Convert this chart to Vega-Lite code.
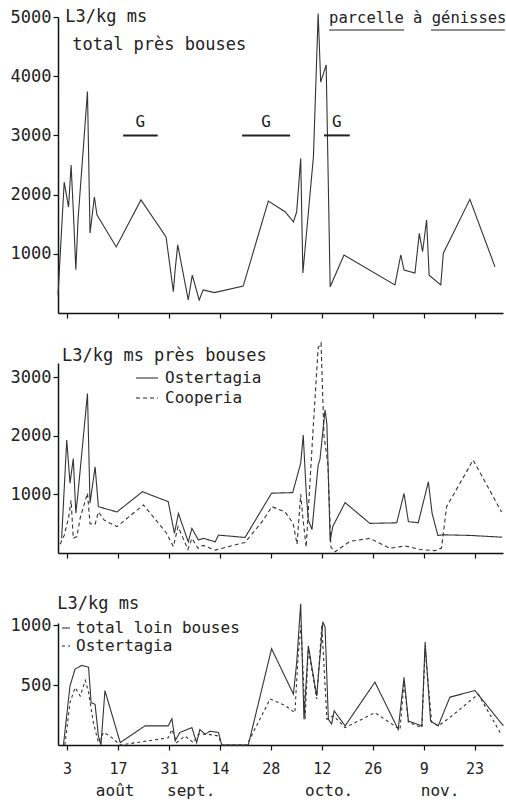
{
  "$schema": "https://vega.github.io/schema/vega-lite/v6.json",
  "background": "white",
  "padding": {"left": 10, "top": 8, "right": 0, "bottom": 0},
  "config": {
    "view": {"stroke": null},
    "font": "DejaVu Sans Mono",
    "axis": {"grid": false, "domainColor": "#111", "domainWidth": 1.5, "tickColor": "#111", "tickWidth": 1.2, "tickSize": 5, "labelColor": "#222", "labelFont": "DejaVu Sans Mono", "labelFontSize": 17, "labelPadding": 2, "format": "d"},
    "legend": {"orient": "none", "title": null, "symbolType": "stroke", "symbolStrokeColor": "#222", "symbolStrokeWidth": 1.2, "labelFont": "DejaVu Sans Mono", "labelFontSize": 16, "labelColor": "#222", "labelLimit": 400, "rowPadding": 2, "padding": 0, "labelOffset": 6},
    "text": {"font": "DejaVu Sans Mono", "fontSize": 16, "color": "#222"}
  },
  "datasets": {
    "haut": [
      {"jour": -2.5, "L3": 300}, {"jour": -0.8, "L3": 2210}, {"jour": 0.4, "L3": 1790}, {"jour": 1.1, "L3": 2500}, {"jour": 1.7, "L3": 1740}, {"jour": 2.4, "L3": 730}, {"jour": 3.0, "L3": 1570}, {"jour": 5.6, "L3": 3740}, {"jour": 6.3, "L3": 1350}, {"jour": 7.5, "L3": 1960}, {"jour": 8.2, "L3": 1660}, {"jour": 13.5, "L3": 1115}, {"jour": 20.3, "L3": 1910}, {"jour": 27.2, "L3": 1285}, {"jour": 29.2, "L3": 360}, {"jour": 29.7, "L3": 730}, {"jour": 30.4, "L3": 1150}, {"jour": 33.3, "L3": 220}, {"jour": 34.4, "L3": 640}, {"jour": 36.3, "L3": 220}, {"jour": 37.4, "L3": 390}, {"jour": 40.5, "L3": 345}, {"jour": 48.4, "L3": 455}, {"jour": 55.3, "L3": 1890}, {"jour": 59.9, "L3": 1710}, {"jour": 62.2, "L3": 1540}, {"jour": 63.1, "L3": 1710}, {"jour": 64.2, "L3": 2610}, {"jour": 64.8, "L3": 675}, {"jour": 67.7, "L3": 2640}, {"jour": 69.0, "L3": 5060}, {"jour": 69.7, "L3": 3900}, {"jour": 71.2, "L3": 4190}, {"jour": 72.3, "L3": 445}, {"jour": 76.1, "L3": 980}, {"jour": 90.1, "L3": 475}, {"jour": 91.7, "L3": 980}, {"jour": 92.6, "L3": 725}, {"jour": 95.6, "L3": 675}, {"jour": 96.8, "L3": 1345}, {"jour": 97.7, "L3": 1035}, {"jour": 98.8, "L3": 1570}, {"jour": 99.5, "L3": 640}, {"jour": 102.7, "L3": 475}, {"jour": 103.4, "L3": 1010}, {"jour": 110.7, "L3": 1920}, {"jour": 117.6, "L3": 780}
    ],
    "paturage": [
      {"debut": 15.4, "fin": 24.9, "label": "G"},
      {"debut": 48.1, "fin": 61.3, "label": "G"},
      {"debut": 70.6, "fin": 77.7, "label": "G"}
    ],
    "mois": [
      {"jour": 13.2, "mois": "août"},
      {"jour": 34.1, "mois": "sept."},
      {"jour": 72.0, "mois": "octo."},
      {"jour": 102.5, "mois": "nov."}
    ],
    "milieu": [
      {"jour": -1.5, "L3": 250, "serie": "Ostertagia"}, {"jour": -0.1, "L3": 1925, "serie": "Ostertagia"}, {"jour": 0.8, "L3": 1190, "serie": "Ostertagia"}, {"jour": 1.7, "L3": 1610, "serie": "Ostertagia"}, {"jour": 2.4, "L3": 680, "serie": "Ostertagia"}, {"jour": 2.9, "L3": 960, "serie": "Ostertagia"}, {"jour": 5.6, "L3": 2720, "serie": "Ostertagia"}, {"jour": 6.3, "L3": 850, "serie": "Ostertagia"}, {"jour": 7.7, "L3": 1470, "serie": "Ostertagia"}, {"jour": 8.6, "L3": 790, "serie": "Ostertagia"}, {"jour": 10.3, "L3": 760, "serie": "Ostertagia"}, {"jour": 13.7, "L3": 700, "serie": "Ostertagia"}, {"jour": 20.7, "L3": 1045, "serie": "Ostertagia"}, {"jour": 27.8, "L3": 875, "serie": "Ostertagia"}, {"jour": 29.5, "L3": 335, "serie": "Ostertagia"}, {"jour": 30.6, "L3": 675, "serie": "Ostertagia"}, {"jour": 33.3, "L3": 190, "serie": "Ostertagia"}, {"jour": 34.3, "L3": 420, "serie": "Ostertagia"}, {"jour": 36.1, "L3": 220, "serie": "Ostertagia"}, {"jour": 37.5, "L3": 250, "serie": "Ostertagia"}, {"jour": 40.7, "L3": 190, "serie": "Ostertagia"}, {"jour": 41.6, "L3": 305, "serie": "Ostertagia"}, {"jour": 48.9, "L3": 265, "serie": "Ostertagia"}, {"jour": 56.2, "L3": 1020, "serie": "Ostertagia"}, {"jour": 62.0, "L3": 1030, "serie": "Ostertagia"}, {"jour": 64.2, "L3": 1530, "serie": "Ostertagia"}, {"jour": 64.9, "L3": 2010, "serie": "Ostertagia"}, {"jour": 65.7, "L3": 1050, "serie": "Ostertagia"}, {"jour": 66.3, "L3": 560, "serie": "Ostertagia"}, {"jour": 67.3, "L3": 400, "serie": "Ostertagia"}, {"jour": 69.0, "L3": 1500, "serie": "Ostertagia"}, {"jour": 69.5, "L3": 1600, "serie": "Ostertagia"}, {"jour": 70.9, "L3": 2440, "serie": "Ostertagia"}, {"jour": 71.4, "L3": 2200, "serie": "Ostertagia"}, {"jour": 72.3, "L3": 200, "serie": "Ostertagia"}, {"jour": 73.0, "L3": 450, "serie": "Ostertagia"}, {"jour": 76.4, "L3": 860, "serie": "Ostertagia"}, {"jour": 83.2, "L3": 505, "serie": "Ostertagia"}, {"jour": 90.6, "L3": 515, "serie": "Ostertagia"}, {"jour": 92.6, "L3": 1015, "serie": "Ostertagia"}, {"jour": 93.8, "L3": 535, "serie": "Ostertagia"}, {"jour": 96.5, "L3": 515, "serie": "Ostertagia"}, {"jour": 99.3, "L3": 1215, "serie": "Ostertagia"}, {"jour": 100.3, "L3": 680, "serie": "Ostertagia"}, {"jour": 101.9, "L3": 300, "serie": "Ostertagia"}, {"jour": 103.4, "L3": 310, "serie": "Ostertagia"}, {"jour": 110.7, "L3": 300, "serie": "Ostertagia"}, {"jour": 119.5, "L3": 270, "serie": "Ostertagia"},
      {"jour": -1.9, "L3": 150, "serie": "Cooperia"}, {"jour": -0.8, "L3": 300, "serie": "Cooperia"}, {"jour": 0.4, "L3": 600, "serie": "Cooperia"}, {"jour": 1.1, "L3": 900, "serie": "Cooperia"}, {"jour": 1.7, "L3": 250, "serie": "Cooperia"}, {"jour": 2.7, "L3": 280, "serie": "Cooperia"}, {"jour": 3.6, "L3": 600, "serie": "Cooperia"}, {"jour": 5.6, "L3": 1020, "serie": "Cooperia"}, {"jour": 6.3, "L3": 500, "serie": "Cooperia"}, {"jour": 7.7, "L3": 490, "serie": "Cooperia"}, {"jour": 8.6, "L3": 700, "serie": "Cooperia"}, {"jour": 10.2, "L3": 560, "serie": "Cooperia"}, {"jour": 13.7, "L3": 450, "serie": "Cooperia"}, {"jour": 21.0, "L3": 820, "serie": "Cooperia"}, {"jour": 27.2, "L3": 350, "serie": "Cooperia"}, {"jour": 29.2, "L3": 110, "serie": "Cooperia"}, {"jour": 30.5, "L3": 450, "serie": "Cooperia"}, {"jour": 33.2, "L3": 60, "serie": "Cooperia"}, {"jour": 34.3, "L3": 250, "serie": "Cooperia"}, {"jour": 36.0, "L3": 80, "serie": "Cooperia"}, {"jour": 37.4, "L3": 130, "serie": "Cooperia"}, {"jour": 40.7, "L3": 50, "serie": "Cooperia"}, {"jour": 48.9, "L3": 180, "serie": "Cooperia"}, {"jour": 53.6, "L3": 535, "serie": "Cooperia"}, {"jour": 56.3, "L3": 790, "serie": "Cooperia"}, {"jour": 59.9, "L3": 700, "serie": "Cooperia"}, {"jour": 62.1, "L3": 510, "serie": "Cooperia"}, {"jour": 63.2, "L3": 150, "serie": "Cooperia"}, {"jour": 64.2, "L3": 1000, "serie": "Cooperia"}, {"jour": 64.8, "L3": 600, "serie": "Cooperia"}, {"jour": 65.7, "L3": 100, "serie": "Cooperia"}, {"jour": 67.6, "L3": 2100, "serie": "Cooperia"}, {"jour": 69.0, "L3": 3500, "serie": "Cooperia"}, {"jour": 69.8, "L3": 3580, "serie": "Cooperia"}, {"jour": 70.6, "L3": 2000, "serie": "Cooperia"}, {"jour": 71.7, "L3": 1500, "serie": "Cooperia"}, {"jour": 72.5, "L3": 100, "serie": "Cooperia"}, {"jour": 73.6, "L3": 20, "serie": "Cooperia"}, {"jour": 77.8, "L3": 200, "serie": "Cooperia"}, {"jour": 83.2, "L3": 250, "serie": "Cooperia"}, {"jour": 88.7, "L3": 80, "serie": "Cooperia"}, {"jour": 92.9, "L3": 120, "serie": "Cooperia"}, {"jour": 97.0, "L3": 60, "serie": "Cooperia"}, {"jour": 101.1, "L3": 40, "serie": "Cooperia"}, {"jour": 102.9, "L3": 85, "serie": "Cooperia"}, {"jour": 104.3, "L3": 790, "serie": "Cooperia"}, {"jour": 111.6, "L3": 1585, "serie": "Cooperia"}, {"jour": 119.4, "L3": 700, "serie": "Cooperia"}
    ],
    "bas": [
      {"jour": -1.0, "L3": 0, "serie": "total loin bouses"}, {"jour": 0.8, "L3": 495, "serie": "total loin bouses"}, {"jour": 2.2, "L3": 635, "serie": "total loin bouses"}, {"jour": 4.0, "L3": 665, "serie": "total loin bouses"}, {"jour": 5.9, "L3": 650, "serie": "total loin bouses"}, {"jour": 6.6, "L3": 355, "serie": "total loin bouses"}, {"jour": 7.7, "L3": 340, "serie": "total loin bouses"}, {"jour": 8.6, "L3": 75, "serie": "total loin bouses"}, {"jour": 9.3, "L3": 0, "serie": "total loin bouses"}, {"jour": 10.4, "L3": 455, "serie": "total loin bouses"}, {"jour": 14.6, "L3": 20, "serie": "total loin bouses"}, {"jour": 21.4, "L3": 160, "serie": "total loin bouses"}, {"jour": 27.8, "L3": 160, "serie": "total loin bouses"}, {"jour": 28.8, "L3": 220, "serie": "total loin bouses"}, {"jour": 29.7, "L3": 35, "serie": "total loin bouses"}, {"jour": 31.0, "L3": 105, "serie": "total loin bouses"}, {"jour": 34.3, "L3": 145, "serie": "total loin bouses"}, {"jour": 35.6, "L3": 20, "serie": "total loin bouses"}, {"jour": 36.5, "L3": 130, "serie": "total loin bouses"}, {"jour": 37.9, "L3": 90, "serie": "total loin bouses"}, {"jour": 39.3, "L3": 115, "serie": "total loin bouses"}, {"jour": 41.6, "L3": 105, "serie": "total loin bouses"}, {"jour": 42.5, "L3": 0, "serie": "total loin bouses"}, {"jour": 49.8, "L3": 0, "serie": "total loin bouses"}, {"jour": 56.2, "L3": 805, "serie": "total loin bouses"}, {"jour": 62.2, "L3": 425, "serie": "total loin bouses"}, {"jour": 63.1, "L3": 690, "serie": "total loin bouses"}, {"jour": 64.2, "L3": 1180, "serie": "total loin bouses"}, {"jour": 65.1, "L3": 215, "serie": "total loin bouses"}, {"jour": 66.3, "L3": 830, "serie": "total loin bouses"}, {"jour": 68.6, "L3": 410, "serie": "total loin bouses"}, {"jour": 70.3, "L3": 1030, "serie": "total loin bouses"}, {"jour": 70.9, "L3": 985, "serie": "total loin bouses"}, {"jour": 71.8, "L3": 215, "serie": "total loin bouses"}, {"jour": 72.7, "L3": 175, "serie": "total loin bouses"}, {"jour": 73.4, "L3": 285, "serie": "total loin bouses"}, {"jour": 76.4, "L3": 160, "serie": "total loin bouses"}, {"jour": 84.6, "L3": 525, "serie": "total loin bouses"}, {"jour": 91.0, "L3": 130, "serie": "total loin bouses"}, {"jour": 92.6, "L3": 565, "serie": "total loin bouses"}, {"jour": 93.8, "L3": 200, "serie": "total loin bouses"}, {"jour": 97.5, "L3": 160, "serie": "total loin bouses"}, {"jour": 98.4, "L3": 860, "serie": "total loin bouses"}, {"jour": 99.9, "L3": 200, "serie": "total loin bouses"}, {"jour": 102.0, "L3": 160, "serie": "total loin bouses"}, {"jour": 105.2, "L3": 400, "serie": "total loin bouses"}, {"jour": 112.1, "L3": 455, "serie": "total loin bouses"}, {"jour": 119.9, "L3": 160, "serie": "total loin bouses"},
      {"jour": -0.6, "L3": 0, "serie": "Ostertagia"}, {"jour": 0.8, "L3": 355, "serie": "Ostertagia"}, {"jour": 2.2, "L3": 480, "serie": "Ostertagia"}, {"jour": 3.6, "L3": 410, "serie": "Ostertagia"}, {"jour": 5.0, "L3": 540, "serie": "Ostertagia"}, {"jour": 5.9, "L3": 440, "serie": "Ostertagia"}, {"jour": 7.2, "L3": 190, "serie": "Ostertagia"}, {"jour": 8.6, "L3": 20, "serie": "Ostertagia"}, {"jour": 10.0, "L3": 105, "serie": "Ostertagia"}, {"jour": 11.8, "L3": 75, "serie": "Ostertagia"}, {"jour": 14.6, "L3": 0, "serie": "Ostertagia"}, {"jour": 22.3, "L3": 35, "serie": "Ostertagia"}, {"jour": 27.8, "L3": 60, "serie": "Ostertagia"}, {"jour": 28.8, "L3": 130, "serie": "Ostertagia"}, {"jour": 30.1, "L3": 20, "serie": "Ostertagia"}, {"jour": 32.4, "L3": 75, "serie": "Ostertagia"}, {"jour": 34.7, "L3": 20, "serie": "Ostertagia"}, {"jour": 36.1, "L3": 90, "serie": "Ostertagia"}, {"jour": 38.8, "L3": 90, "serie": "Ostertagia"}, {"jour": 41.6, "L3": 75, "serie": "Ostertagia"}, {"jour": 42.5, "L3": 0, "serie": "Ostertagia"}, {"jour": 49.4, "L3": 0, "serie": "Ostertagia"}, {"jour": 55.8, "L3": 385, "serie": "Ostertagia"}, {"jour": 59.9, "L3": 330, "serie": "Ostertagia"}, {"jour": 62.6, "L3": 270, "serie": "Ostertagia"}, {"jour": 63.5, "L3": 750, "serie": "Ostertagia"}, {"jour": 64.3, "L3": 1000, "serie": "Ostertagia"}, {"jour": 65.4, "L3": 215, "serie": "Ostertagia"}, {"jour": 66.3, "L3": 805, "serie": "Ostertagia"}, {"jour": 68.6, "L3": 385, "serie": "Ostertagia"}, {"jour": 70.0, "L3": 1000, "serie": "Ostertagia"}, {"jour": 71.4, "L3": 215, "serie": "Ostertagia"}, {"jour": 73.2, "L3": 245, "serie": "Ostertagia"}, {"jour": 76.4, "L3": 145, "serie": "Ostertagia"}, {"jour": 84.6, "L3": 270, "serie": "Ostertagia"}, {"jour": 91.5, "L3": 130, "serie": "Ostertagia"}, {"jour": 92.6, "L3": 525, "serie": "Ostertagia"}, {"jour": 93.8, "L3": 190, "serie": "Ostertagia"}, {"jour": 97.5, "L3": 145, "serie": "Ostertagia"}, {"jour": 98.4, "L3": 805, "serie": "Ostertagia"}, {"jour": 100.2, "L3": 190, "serie": "Ostertagia"}, {"jour": 102.0, "L3": 160, "serie": "Ostertagia"}, {"jour": 105.2, "L3": 230, "serie": "Ostertagia"}, {"jour": 113.0, "L3": 425, "serie": "Ostertagia"}, {"jour": 119.0, "L3": 105, "serie": "Ostertagia"}
    ]
  },
  "spacing": 21,
  "resolve": {"scale": {"x": "independent", "y": "independent", "strokeDash": "independent"}, "legend": {"strokeDash": "independent"}},
  "vconcat": [
    {
      "width": 445,
      "height": 296,
      "layer": [
        {
          "data": {"name": "haut"},
          "mark": {"type": "line", "color": "#333", "strokeWidth": 1.1},
          "encoding": {
            "x": {"field": "jour", "type": "quantitative", "scale": {"domain": [-2.5, 119.8], "nice": false, "zero": false}, "axis": {"title": null, "labels": false, "values": [0, 7, 14, 21, 28, 35, 42, 49, 56, 63, 70, 77, 84, 91, 98, 105, 112, 119]}},
            "y": {"field": "L3", "type": "quantitative", "scale": {"domain": [0, 5000], "nice": false}, "axis": {"title": null, "values": [1000, 2000, 3000, 4000, 5000]}}
          }
        },
        {
          "data": {"name": "paturage"},
          "mark": {"type": "rule", "strokeWidth": 2, "color": "#222"},
          "encoding": {"x": {"field": "debut", "type": "quantitative"}, "x2": {"field": "fin"}, "y": {"datum": 3000}}
        },
        {
          "data": {"name": "paturage"},
          "transform": [{"calculate": "(datum.debut + datum.fin) / 2", "as": "milieu"}],
          "mark": {"type": "text", "fontSize": 16, "baseline": "middle"},
          "encoding": {"x": {"field": "milieu", "type": "quantitative"}, "y": {"datum": 3230}, "text": {"field": "label"}}
        },
        {
          "data": {"values": [{}]},
          "mark": {"type": "text", "text": "L3/kg ms", "align": "left", "baseline": "middle", "fontSize": 17},
          "encoding": {"x": {"datum": -0.5}, "y": {"datum": 5000}}
        },
        {
          "data": {"values": [{}]},
          "mark": {"type": "text", "text": "total près bouses", "align": "left", "baseline": "middle", "fontSize": 17},
          "encoding": {"x": {"datum": 1.4}, "y": {"datum": 4527}}
        },
        {
          "data": {"values": [{}]},
          "mark": {"type": "text", "text": "parcelle à génisses", "align": "left", "baseline": "middle", "fontSize": 15.5},
          "encoding": {"x": {"datum": 72}, "y": {"datum": 4980}}
        },
        {
          "data": {"values": [{}]},
          "mark": {"type": "rule", "strokeWidth": 1.2, "color": "#222"},
          "encoding": {"x": {"datum": 72}, "x2": {"datum": 92.6}, "y": {"datum": 4780}}
        },
        {
          "data": {"values": [{}]},
          "mark": {"type": "rule", "strokeWidth": 1.2, "color": "#222"},
          "encoding": {"x": {"datum": 100}, "x2": {"datum": 120.3}, "y": {"datum": 4780}}
        }
      ]
    },
    {
      "spacing": 35,
      "resolve": {"scale": {"x": "independent", "y": "independent", "strokeDash": "independent"}, "legend": {"strokeDash": "independent"}},
      "vconcat": [
        {
          "width": 445,
          "height": 190,
          "layer": [
            {
              "data": {"name": "milieu"},
              "mark": {"type": "line", "color": "#333", "strokeWidth": 1.1},
              "encoding": {
                "x": {"field": "jour", "type": "quantitative", "scale": {"domain": [-2.5, 119.8], "nice": false, "zero": false}, "axis": {"title": null, "labels": false, "values": [0, 7, 14, 21, 28, 35, 42, 49, 56, 63, 70, 77, 84, 91, 98, 105, 112, 119]}},
                "y": {"field": "L3", "type": "quantitative", "scale": {"domain": [0, 3240], "nice": false}, "axis": {"title": null, "values": [1000, 2000, 3000]}},
                "strokeDash": {"field": "serie", "type": "nominal", "scale": {"domain": ["Ostertagia", "Cooperia"], "range": [[1, 0], [4, 3]]}, "legend": {"legendX": 77, "legendY": 3, "symbolSize": 484, "rowPadding": -4}}
              }
            },
            {
              "data": {"values": [{}]},
              "mark": {"type": "text", "text": "L3/kg ms près bouses", "align": "left", "baseline": "middle", "fontSize": 17},
              "encoding": {"x": {"datum": -1.4}, "y": {"datum": 3357}}
            }
          ]
        },
        {
          "width": 445,
          "height": 122,
          "layer": [
            {
              "data": {"name": "bas"},
              "mark": {"type": "line", "color": "#333", "strokeWidth": 1.1},
              "encoding": {
                "x": {"field": "jour", "type": "quantitative", "scale": {"domain": [-2.5, 119.8], "nice": false, "zero": false}, "axis": {"title": null, "values": [0, 7, 14, 21, 28, 35, 42, 49, 56, 63, 70, 77, 84, 91, 98, 105, 112, 119], "labelFontSize": 15, "labelPadding": 11, "labelOverlap": false, "labelFlush": false, "labelExpr": "datum.value == 0 ? '3' : datum.value == 14 ? '17' : datum.value == 28 ? '31' : datum.value == 42 ? '14' : datum.value == 56 ? '28' : datum.value == 70 ? '12' : datum.value == 84 ? '26' : datum.value == 98 ? '9' : datum.value == 112 ? '23' : ''"}},
                "y": {"field": "L3", "type": "quantitative", "scale": {"domain": [0, 1020], "nice": false}, "axis": {"title": null, "values": [500, 1000]}},
                "strokeDash": {"field": "serie", "type": "nominal", "scale": {"domain": ["total loin bouses", "Ostertagia"], "range": [[1, 0], [3, 3]]}, "legend": {"legendX": 0, "legendY": -3, "symbolSize": 64, "labelOffset": 2}}
              }
            },
            {
              "data": {"name": "mois"},
              "mark": {"type": "text", "fontSize": 16, "baseline": "middle"},
              "encoding": {"x": {"field": "jour", "type": "quantitative"}, "y": {"datum": -385}, "text": {"field": "mois"}}
            },
            {
              "data": {"values": [{}]},
              "mark": {"type": "text", "text": "L3/kg ms", "align": "left", "baseline": "middle", "fontSize": 17},
              "encoding": {"x": {"datum": -2.7}, "y": {"datum": 1179}}
            }
          ]
        }
      ]
    }
  ]
}
